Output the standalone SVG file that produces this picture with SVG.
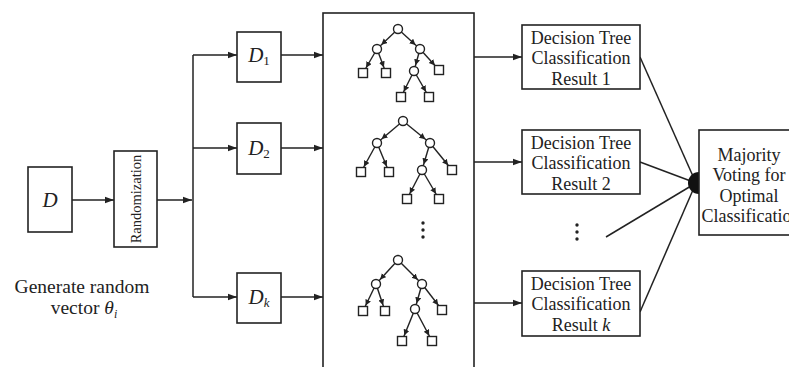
<svg xmlns="http://www.w3.org/2000/svg" width="789" height="367" viewBox="0 0 789 367">
<defs>
<style>
.box{fill:#fff;stroke:#222;stroke-width:1.6}
.ln{fill:none;stroke:#222;stroke-width:1.5}
.arr{fill:none;stroke:#222;stroke-width:1.5;marker-end:url(#ah)}
.te{fill:none;stroke:#222;stroke-width:1.4;marker-end:url(#th)}
.cn{fill:#fff;stroke:#222;stroke-width:1.4}
.t{font-family:"Liberation Serif","Times New Roman",serif;fill:#222;text-anchor:middle}
.r{font-size:18px}
</style>
<marker id="ah" markerUnits="userSpaceOnUse" markerWidth="10" markerHeight="8" refX="9" refY="4" orient="auto">
<path d="M0,0.8 L9,4 L0,7.2 z" fill="#222"/>
</marker>
<marker id="th" markerUnits="userSpaceOnUse" markerWidth="16" markerHeight="8" refX="12" refY="3" orient="auto">
<path d="M0,0 L6,3 L0,6 z" fill="#222"/>
</marker>
</defs>
<rect width="789" height="367" fill="#fff"/>

<g id="connectors">
<line class="arr" x1="72" y1="200" x2="114" y2="200"/>
<line class="arr" x1="157" y1="200" x2="192" y2="200"/>
<line class="ln" x1="193" y1="55" x2="193" y2="297"/>
<line class="arr" x1="193" y1="55" x2="237" y2="55"/>
<line class="arr" x1="193" y1="148" x2="237" y2="148"/>
<line class="arr" x1="193" y1="297" x2="237" y2="297"/>
<line class="arr" x1="281" y1="55" x2="323" y2="55"/>
<line class="arr" x1="281" y1="148" x2="323" y2="148"/>
<line class="arr" x1="281" y1="297" x2="323" y2="297"/>
<line class="arr" x1="474" y1="57" x2="522" y2="57"/>
<line class="arr" x1="474" y1="162" x2="522" y2="162"/>
<line class="arr" x1="474" y1="303" x2="522" y2="303"/>
<line class="ln" x1="640" y1="57" x2="696" y2="183"/>
<line class="ln" x1="640" y1="162" x2="696" y2="183"/>
<line class="ln" x1="606" y1="237" x2="696" y2="183"/>
<line class="ln" x1="640" y1="312" x2="696" y2="183"/>
</g>

<g id="node-D">
<rect class="box" x="28" y="167" width="44" height="65"/>
<text class="t" x="50" y="207" font-size="21" font-style="italic">D</text>
</g>

<g id="node-randomization">
<rect class="box" x="114" y="151" width="43" height="96"/>
<text class="t" x="0" y="0" font-size="14.5" transform="translate(141,199) rotate(-90)">Randomization</text>
</g>

<text class="t" x="82" y="293" font-size="19.5">Generate random</text>
<text class="t" x="84" y="314" font-size="19.5">vector <tspan font-style="italic">θ</tspan><tspan font-style="italic" font-size="12" dy="4">i</tspan></text>

<g id="node-D1">
<rect class="box" x="237" y="32" width="44" height="50"/>
<text class="t" x="259" y="62" font-size="21"><tspan font-style="italic">D</tspan><tspan font-size="13" dy="3">1</tspan></text>
</g>
<g id="node-D2">
<rect class="box" x="237" y="123" width="44" height="51"/>
<text class="t" x="259" y="155" font-size="21"><tspan font-style="italic">D</tspan><tspan font-size="13" dy="3">2</tspan></text>
</g>
<g id="node-Dk">
<rect class="box" x="237" y="273" width="44" height="50"/>
<text class="t" x="259" y="304" font-size="21"><tspan font-style="italic">D</tspan><tspan font-size="13" font-style="italic" dy="3">k</tspan></text>
</g>

<g id="node-forest">
<rect class="box" x="323" y="13" width="151" height="370"/>
<g id="tree1">
<line class="te" x1="398" y1="29" x2="377" y2="49"/>
<line class="te" x1="398" y1="29" x2="420" y2="49"/>
<line class="te" x1="377" y1="49" x2="363" y2="73"/>
<line class="te" x1="377" y1="49" x2="386" y2="73"/>
<line class="te" x1="420" y1="49" x2="414" y2="71"/>
<line class="te" x1="420" y1="49" x2="439" y2="70"/>
<line class="te" x1="414" y1="71" x2="401" y2="97"/>
<line class="te" x1="414" y1="71" x2="429" y2="97"/>
<circle class="cn" cx="398" cy="29" r="4.5"/>
<circle class="cn" cx="377" cy="49" r="4.5"/>
<circle class="cn" cx="420" cy="49" r="4.5"/>
<circle class="cn" cx="414" cy="71" r="4.5"/>
<rect class="cn" x="358.5" y="68.5" width="9" height="9"/>
<rect class="cn" x="381.5" y="68.5" width="9" height="9"/>
<rect class="cn" x="434.5" y="65.5" width="9" height="9"/>
<rect class="cn" x="396.5" y="92.5" width="9" height="9"/>
<rect class="cn" x="424.5" y="92.5" width="9" height="9"/>
</g>
<g id="tree2">
<line class="te" x1="403" y1="121" x2="377" y2="143"/>
<line class="te" x1="403" y1="121" x2="430" y2="143"/>
<line class="te" x1="377" y1="143" x2="361" y2="172"/>
<line class="te" x1="377" y1="143" x2="389" y2="172"/>
<line class="te" x1="430" y1="143" x2="422" y2="170"/>
<line class="te" x1="430" y1="143" x2="452" y2="170"/>
<line class="te" x1="422" y1="170" x2="407" y2="199"/>
<line class="te" x1="422" y1="170" x2="439" y2="199"/>
<circle class="cn" cx="403" cy="121" r="4.5"/>
<circle class="cn" cx="377" cy="143" r="4.5"/>
<circle class="cn" cx="430" cy="143" r="4.5"/>
<circle class="cn" cx="422" cy="170" r="4.5"/>
<rect class="cn" x="356.5" y="167.5" width="9" height="9"/>
<rect class="cn" x="384.5" y="167.5" width="9" height="9"/>
<rect class="cn" x="447.5" y="165.5" width="9" height="9"/>
<rect class="cn" x="402.5" y="194.5" width="9" height="9"/>
<rect class="cn" x="434.5" y="194.5" width="9" height="9"/>
</g>
<g id="tree-dots" fill="#222">
<circle cx="423" cy="223" r="1.7"/>
<circle cx="423" cy="230" r="1.7"/>
<circle cx="423" cy="237" r="1.7"/>
</g>
<g id="tree3">
<line class="te" x1="398" y1="260" x2="376" y2="284"/>
<line class="te" x1="398" y1="260" x2="422" y2="284"/>
<line class="te" x1="376" y1="284" x2="363" y2="311"/>
<line class="te" x1="376" y1="284" x2="385" y2="311"/>
<line class="te" x1="422" y1="284" x2="415" y2="309"/>
<line class="te" x1="422" y1="284" x2="442" y2="310"/>
<line class="te" x1="415" y1="309" x2="402" y2="341"/>
<line class="te" x1="415" y1="309" x2="432" y2="341"/>
<circle class="cn" cx="398" cy="260" r="4.5"/>
<circle class="cn" cx="376" cy="284" r="4.5"/>
<circle class="cn" cx="422" cy="284" r="4.5"/>
<circle class="cn" cx="415" cy="309" r="4.5"/>
<rect class="cn" x="358.5" y="306.5" width="9" height="9"/>
<rect class="cn" x="380.5" y="306.5" width="9" height="9"/>
<rect class="cn" x="437.5" y="305.5" width="9" height="9"/>
<rect class="cn" x="397.5" y="336.5" width="9" height="9"/>
<rect class="cn" x="427.5" y="336.5" width="9" height="9"/>
</g>
</g>

<g id="node-result1">
<rect class="box" x="522" y="25" width="118" height="64"/>
<text class="t r" x="581" y="44">Decision Tree</text>
<text class="t r" x="581" y="64">Classification</text>
<text class="t r" x="581" y="85">Result 1</text>
</g>
<g id="node-result2">
<rect class="box" x="522" y="130" width="118" height="64"/>
<text class="t r" x="581" y="149">Decision Tree</text>
<text class="t r" x="581" y="169">Classification</text>
<text class="t r" x="581" y="190">Result 2</text>
</g>
<g id="result-dots" fill="#222">
<circle cx="577" cy="225" r="1.7"/>
<circle cx="577" cy="232" r="1.7"/>
<circle cx="577" cy="239" r="1.7"/>
</g>
<g id="node-resultk">
<rect class="box" x="522" y="271" width="118" height="65"/>
<text class="t r" x="581" y="290">Decision Tree</text>
<text class="t r" x="581" y="310">Classification</text>
<text class="t r" x="581" y="331">Result <tspan font-style="italic">k</tspan></text>
</g>

<g id="node-majority">
<circle cx="699" cy="183" r="11" fill="#111"/>
<rect class="box" x="699" y="130" width="110" height="105"/>
<text class="t r" x="749" y="161">Majority</text>
<text class="t r" x="749" y="181">Voting for</text>
<text class="t r" x="749" y="202">Optimal</text>
<text class="t r" x="751" y="222">Classification</text>
</g>
</svg>
